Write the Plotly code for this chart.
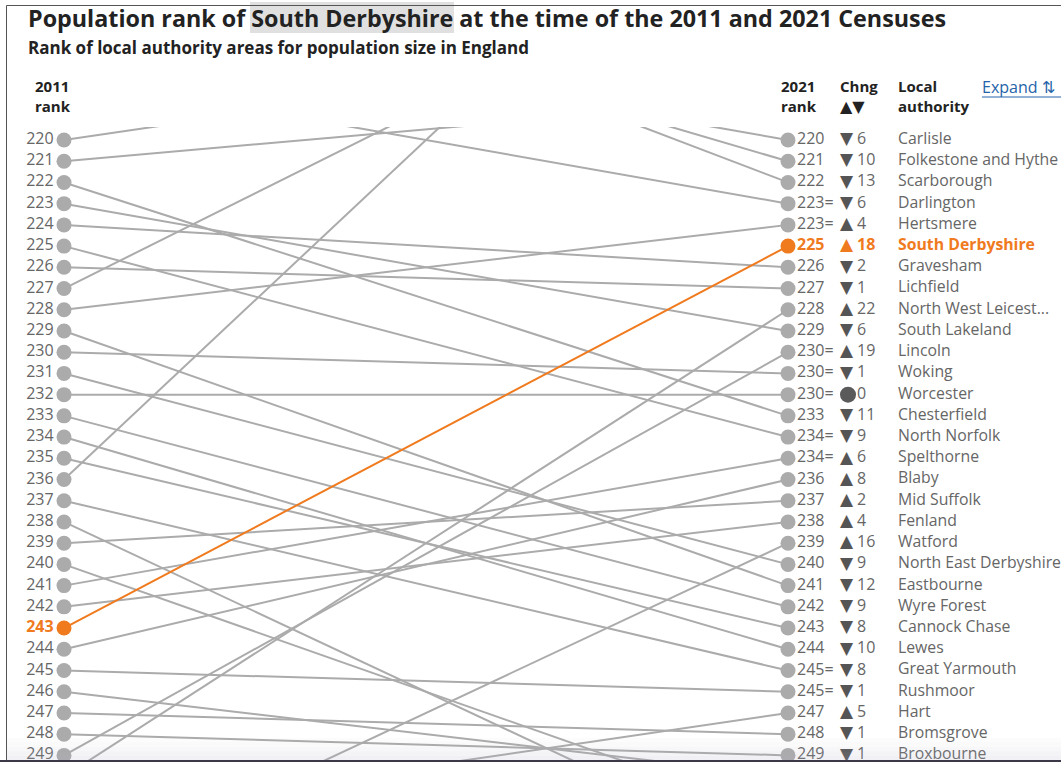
import plotly.graph_objects as go

# ---------------- data ----------------
# 2021 side: one entry per visible row (positions 220-249)
rows_2021 = list(range(220, 250))
rank_2021_labels = ["220", "221", "222", "223=", "223=", "225", "226", "227", "228", "229",
                    "230=", "230=", "230=", "233", "234=", "234=", "236", "237", "238", "239",
                    "240", "241", "242", "243", "244", "245=", "245=", "247", "248", "249"]
change = [-6, -10, -13, -6, 4, 18, -2, -1, 22, -6,
          19, -1, 0, -11, -9, 6, 8, 2, 4, 16,
          -9, -12, -9, -8, -10, -8, -1, 5, -1, -1]
authority = ["Carlisle", "Folkestone and Hythe", "Scarborough", "Darlington", "Hertsmere",
             "South Derbyshire", "Gravesham", "Lichfield", "North West Leicest...", "South Lakeland",
             "Lincoln", "Woking", "Worcester", "Chesterfield", "North Norfolk",
             "Spelthorne", "Blaby", "Mid Suffolk", "Fenland", "Watford",
             "North East Derbyshire", "Eastbourne", "Wyre Forest", "Cannock Chase", "Lewes",
             "Great Yarmouth", "Rushmoor", "Hart", "Bromsgrove", "Broxbourne"]
# 2011 row position of each of the above authorities
row_2011 = [214, 211, 209, 217, 228, 243, 224, 226, 250, 223,
            249, 230, 232, 222, 225, 241, 244, 239, 242, 255,
            231, 229, 233, 235, 234, 237, 245, 252, 247, 248]

# authorities visible only on the 2011 side (2021 position off screen, estimated)
extra_row_2011 = [220, 221, 227, 236, 238, 240, 246]
extra_row_2021 = [215, 218, 210, 204, 254, 252, 250]

# 2011 rank labels (left column)
rows_2011_visible = list(range(220, 250))

highlight = "South Derbyshire"

# ---------------- styling ----------------
W, H = 1061, 762
TOP = 127                     # top of plotting area (px)
X_LEFT_PX, X_RIGHT_PX = 64, 788
ROW_PX = 21.22
Y220_PX = 140
GREY = "#ababab"
ORANGE = "#f07a1e"
TXT = "#666666"
DARK = "#222222"
FONT = "Open Sans"

def xdata(px):          # px -> data x
    return (px - X_LEFT_PX) / (X_RIGHT_PX - X_LEFT_PX)

def py2paper(py):       # py -> paper y
    return (H - py) / (H - TOP)

def px2paper(px):       # px -> paper x
    return px / W

y_top = 220 - (Y220_PX - TOP) / ROW_PX
y_bot = 220 + (H - Y220_PX) / ROW_PX

fig = go.Figure()

# grey connecting lines
lx, ly = [], []
for a, b, nm in zip(row_2011, rows_2021, authority):
    if nm == highlight:
        continue
    lx += [0, 1, None]
    ly += [a, b, None]
for a, b in zip(extra_row_2011, extra_row_2021):
    lx += [0, 1, None]
    ly += [a, b, None]
fig.add_trace(go.Scatter(x=lx, y=ly, mode="lines", line=dict(color=GREY, width=2),
                         hoverinfo="skip"))

# highlighted line
hi = authority.index(highlight)
fig.add_trace(go.Scatter(x=[0, 1], y=[row_2011[hi], rows_2021[hi]], mode="lines",
                         line=dict(color=ORANGE, width=2), hoverinfo="skip"))

# left dots + labels
left_colors = [ORANGE if r == row_2011[hi] else GREY for r in rows_2011_visible]
left_text = [f"<b>{r}</b>" if r == row_2011[hi] else str(r) for r in rows_2011_visible]
fig.add_trace(go.Scatter(
    x=[0] * len(rows_2011_visible), y=rows_2011_visible, mode="markers+text",
    marker=dict(size=15, color=left_colors),
    text=left_text, textposition="middle left",
    textfont=dict(family=FONT, size=16, color=[ORANGE if c == ORANGE else TXT for c in left_colors]),
    cliponaxis=False, hoverinfo="skip"))

# right dots
right_colors = [ORANGE if n == highlight else GREY for n in authority]
fig.add_trace(go.Scatter(x=[1] * len(rows_2021), y=rows_2021, mode="markers",
                         marker=dict(size=15, color=right_colors), cliponaxis=False,
                         hoverinfo="skip"))

txt_colors = [ORANGE if n == highlight else TXT for n in authority]
def bold(s, n):
    return f"<b>{s}</b>" if n == highlight else s

# 2021 rank text
fig.add_trace(go.Scatter(x=[xdata(797)] * len(rows_2021), y=rows_2021, mode="text",
                         text=[bold(s, n) for s, n in zip(rank_2021_labels, authority)],
                         textposition="middle right",
                         textfont=dict(family=FONT, size=16, color=txt_colors),
                         cliponaxis=False, hoverinfo="skip"))
# change arrows
arrow_rows = [r for r, c in zip(rows_2021, change) if c != 0]
arrow_txt = ["▲" if c > 0 else "▼" for c in change if c != 0]
arrow_col = [ORANGE if n == highlight else "#555555" for c, n in zip(change, authority) if c != 0]
fig.add_trace(go.Scatter(x=[xdata(840)] * len(arrow_rows), y=arrow_rows, mode="text",
                         text=arrow_txt, textposition="middle right",
                         textfont=dict(family="DejaVu Sans", size=17, color=arrow_col),
                         cliponaxis=False, hoverinfo="skip"))
# no-change marker
zero_rows = [r for r, c in zip(rows_2021, change) if c == 0]
fig.add_trace(go.Scatter(x=[xdata(848)] * len(zero_rows), y=zero_rows, mode="markers",
                         marker=dict(size=16, color="#5a5a5a"), cliponaxis=False,
                         hoverinfo="skip"))
# change numbers
fig.add_trace(go.Scatter(x=[xdata(857)] * len(rows_2021), y=rows_2021, mode="text",
                         text=[bold(str(abs(c)), n) for c, n in zip(change, authority)],
                         textposition="middle right",
                         textfont=dict(family=FONT, size=16, color=txt_colors),
                         cliponaxis=False, hoverinfo="skip"))
# names
fig.add_trace(go.Scatter(x=[xdata(898)] * len(rows_2021), y=rows_2021, mode="text",
                         text=[bold(n, n) for n in authority],
                         textposition="middle right",
                         textfont=dict(family=FONT, size=15.8, color=txt_colors),
                         cliponaxis=False, hoverinfo="skip"))

annotations = []
def ann(text, px, py, size, color=DARK, anchor="left", yanchor="middle"):
    annotations.append(dict(text=text, x=px2paper(px), y=py2paper(py), xref="paper", yref="paper",
                            xanchor=anchor, yanchor=yanchor, showarrow=False, align="left",
                            font=dict(family=FONT, size=size, color=color)))

ann("<b>Population rank of South Derbyshire at the time of the 2011 and 2021 Censuses</b>",
    26, 18, 23.3)
ann("<b>Rank of local authority areas for population size in England</b>", 26, 47, 17)
ann("<b>2011<br>rank</b>", 33, 96, 15)
ann("<b>2021<br>rank</b>", 779, 96, 15)
ann("<b>Chng<br><span style='font-family:DejaVu Sans;font-size:16px'>▲▼</span></b>", 838, 96, 15)
ann("<b>Local<br>authority</b>", 896, 96, 15)
ann("Expand ⇅", 980, 87, 16, color="#2563a8")

shapes = [
    # highlight behind "South Derbyshire" in the title
    dict(type="rect", xref="paper", yref="paper", layer="below",
         x0=px2paper(250), x1=px2paper(454), y0=py2paper(33), y1=py2paper(2),
         fillcolor="#e0e0e0", line=dict(width=0)),
    # underline of Expand link
    dict(type="line", xref="paper", yref="paper", x0=px2paper(982), x1=px2paper(1061),
         y0=py2paper(97), y1=py2paper(97), line=dict(color="#2563a8", width=1)),
    # frame lines
    dict(type="line", xref="paper", yref="paper", x0=px2paper(6.5), x1=px2paper(6.5),
         y0=py2paper(5.5), y1=py2paper(762), line=dict(color="#555555", width=1)),
    dict(type="line", xref="paper", yref="paper", x0=px2paper(6.5), x1=px2paper(1061),
         y0=py2paper(5.5), y1=py2paper(5.5), line=dict(color="#555555", width=1)),
]
# faint bottom shade
for i, a in enumerate([0.04, 0.07, 0.10, 0.14, 0.18]):
    y0 = 738 + i * 4.5
    shapes.append(dict(type="rect", xref="paper", yref="paper", layer="above",
                       x0=px2paper(7), x1=1, y0=py2paper(y0 + 4.5), y1=py2paper(y0),
                       fillcolor=f"rgba(180,178,200,{a})", line=dict(width=0)))
shapes.append(dict(type="line", xref="paper", yref="paper", x0=0, x1=1,
                   y0=py2paper(761), y1=py2paper(761), line=dict(color="#3c3848", width=2)))

fig.update_layout(
    width=W, height=H,
    margin=dict(l=0, r=0, t=TOP, b=0, pad=0),
    paper_bgcolor="white", plot_bgcolor="white",
    showlegend=False, hovermode=False,
    xaxis=dict(range=[xdata(0), xdata(W)], visible=False, fixedrange=True),
    yaxis=dict(range=[y_bot, y_top], visible=False, fixedrange=True),
    annotations=annotations, shapes=shapes,
)

fig.write_html("out.html", config={"displayModeBar": False},
               post_script="document.body.style.margin='0';document.body.style.overflow='hidden';")
